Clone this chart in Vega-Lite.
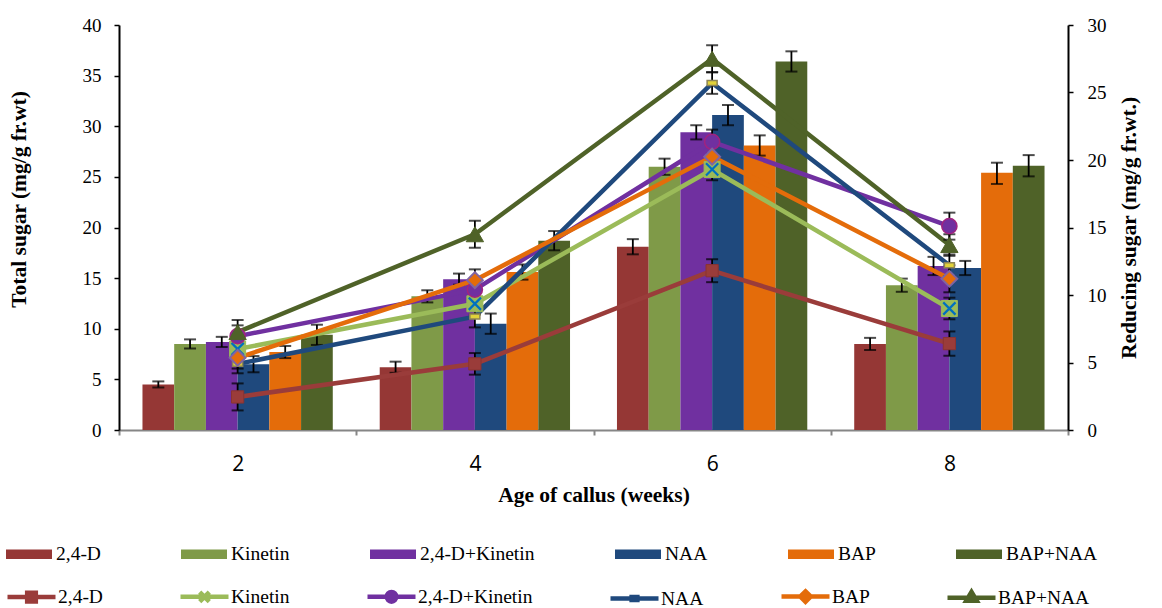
{
  "$schema": "https://vega.github.io/schema/vega-lite/v6.json",
  "width": 949,
  "height": 405,
  "autosize": {"type": "none"},
  "padding": {"left": 119, "top": 25, "right": 94, "bottom": 178},
  "background": "white",
  "config": {"view": {"stroke": null}, "font": "Liberation Serif"},
  "datasets": {
    "bars": [
      {"week": 2, "treatment": "2,4-D", "total": 4.5, "lo": 4.2, "hi": 4.8},
      {"week": 2, "treatment": "Kinetin", "total": 8.5, "lo": 8.05, "hi": 8.95},
      {"week": 2, "treatment": "2,4-D+Kinetin", "total": 8.7, "lo": 8.2, "hi": 9.2},
      {"week": 2, "treatment": "NAA", "total": 6.5, "lo": 5.7, "hi": 7.3},
      {"week": 2, "treatment": "BAP", "total": 7.7, "lo": 7.1, "hi": 8.3},
      {"week": 2, "treatment": "BAP+NAA", "total": 9.4, "lo": 8.4, "hi": 10.4},
      {"week": 4, "treatment": "2,4-D", "total": 6.2, "lo": 5.65, "hi": 6.75},
      {"week": 4, "treatment": "Kinetin", "total": 13.2, "lo": 12.6, "hi": 13.8},
      {"week": 4, "treatment": "2,4-D+Kinetin", "total": 14.9, "lo": 14.35, "hi": 15.45},
      {"week": 4, "treatment": "NAA", "total": 10.5, "lo": 9.5, "hi": 11.5},
      {"week": 4, "treatment": "BAP", "total": 15.6, "lo": 14.85, "hi": 16.35},
      {"week": 4, "treatment": "BAP+NAA", "total": 18.7, "lo": 17.75, "hi": 19.65},
      {"week": 6, "treatment": "2,4-D", "total": 18.1, "lo": 17.35, "hi": 18.85},
      {"week": 6, "treatment": "Kinetin", "total": 26.0, "lo": 25.2, "hi": 26.8},
      {"week": 6, "treatment": "2,4-D+Kinetin", "total": 29.4, "lo": 28.7, "hi": 30.1},
      {"week": 6, "treatment": "NAA", "total": 31.1, "lo": 30.1, "hi": 32.1},
      {"week": 6, "treatment": "BAP", "total": 28.1, "lo": 27.1, "hi": 29.1},
      {"week": 6, "treatment": "BAP+NAA", "total": 36.4, "lo": 35.4, "hi": 37.4},
      {"week": 8, "treatment": "2,4-D", "total": 8.5, "lo": 7.9, "hi": 9.1},
      {"week": 8, "treatment": "Kinetin", "total": 14.3, "lo": 13.65, "hi": 14.95},
      {"week": 8, "treatment": "2,4-D+Kinetin", "total": 16.2, "lo": 15.3, "hi": 17.1},
      {"week": 8, "treatment": "NAA", "total": 16.0, "lo": 15.3, "hi": 16.7},
      {"week": 8, "treatment": "BAP", "total": 25.4, "lo": 24.3, "hi": 26.4},
      {"week": 8, "treatment": "BAP+NAA", "total": 26.1, "lo": 25.05, "hi": 27.15}
    ],
    "lines": [
      {"week": 2, "series": "2,4-D", "reducing": 2.45, "lo": 1.45, "hi": 3.45},
      {"week": 2, "series": "Kinetin", "reducing": 6.0, "lo": 5.2, "hi": 6.8},
      {"week": 2, "series": "2,4-D+Kinetin", "reducing": 6.95, "lo": 6.15, "hi": 7.75},
      {"week": 2, "series": "NAA", "reducing": 4.9, "lo": 4.2, "hi": 5.6},
      {"week": 2, "series": "BAP", "reducing": 5.35, "lo": 4.55, "hi": 6.15},
      {"week": 2, "series": "BAP+NAA", "reducing": 7.25, "lo": 6.35, "hi": 8.15},
      {"week": 4, "series": "2,4-D", "reducing": 4.9, "lo": 4.1, "hi": 5.7},
      {"week": 4, "series": "Kinetin", "reducing": 9.35, "lo": 8.55, "hi": 10.15},
      {"week": 4, "series": "2,4-D+Kinetin", "reducing": 10.4, "lo": 9.6, "hi": 11.2},
      {"week": 4, "series": "NAA", "reducing": 8.4, "lo": 7.6, "hi": 9.2},
      {"week": 4, "series": "BAP", "reducing": 11.1, "lo": 10.3, "hi": 11.9},
      {"week": 4, "series": "BAP+NAA", "reducing": 14.5, "lo": 13.5, "hi": 15.5},
      {"week": 6, "series": "2,4-D", "reducing": 11.8, "lo": 10.95, "hi": 12.65},
      {"week": 6, "series": "Kinetin", "reducing": 19.3, "lo": 18.5, "hi": 20.1},
      {"week": 6, "series": "2,4-D+Kinetin", "reducing": 21.35, "lo": 20.45, "hi": 22.25},
      {"week": 6, "series": "NAA", "reducing": 25.7, "lo": 24.9, "hi": 26.5},
      {"week": 6, "series": "BAP", "reducing": 20.25, "lo": 19.45, "hi": 21.05},
      {"week": 6, "series": "BAP+NAA", "reducing": 27.5, "lo": 26.5, "hi": 28.5},
      {"week": 8, "series": "2,4-D", "reducing": 6.4, "lo": 5.5, "hi": 7.3},
      {"week": 8, "series": "Kinetin", "reducing": 9.0, "lo": 8.2, "hi": 9.8},
      {"week": 8, "series": "2,4-D+Kinetin", "reducing": 15.1, "lo": 14.1, "hi": 16.1},
      {"week": 8, "series": "NAA", "reducing": 12.2, "lo": 11.4, "hi": 13.0},
      {"week": 8, "series": "BAP", "reducing": 11.2, "lo": 10.2, "hi": 12.2},
      {"week": 8, "series": "BAP+NAA", "reducing": 13.7, "lo": 12.9, "hi": 14.5}
    ]
  },
  "encoding": {
    "x": {
      "field": "week", "type": "ordinal", "title": "Age of callus (weeks)",
      "scale": {"paddingInner": 0, "paddingOuter": 0},
      "axis": {
        "labelAngle": 0, "tickBand": "extent", "domainColor": "#868686", "domainWidth": 2,
        "tickColor": "#868686", "tickWidth": 2, "tickSize": 5,
        "labelFont": "Open Sans", "labelFontSize": 21, "labelColor": "#000", "labelPadding": 18,
        "titleFont": "Liberation Serif", "titleFontSize": 21.5, "titleFontWeight": "bold", "titleColor": "#000", "titlePadding": 10,
        "grid": false
      }
    }
  },
  "layer": [
    {
      "data": {"name": "bars"},
      "layer": [
        {
          "mark": {"type": "bar"},
          "encoding": {
            "xOffset": {"field": "treatment", "type": "nominal", "scale": {"domain": ["2,4-D", "Kinetin", "2,4-D+Kinetin", "NAA", "BAP", "BAP+NAA"], "paddingInner": 0, "paddingOuter": 0.74}},
            "y": {
              "field": "total", "type": "quantitative", "title": "Total sugar (mg/g fr.wt)",
              "scale": {"domain": [0, 40], "nice": false},
              "axis": {
                "orient": "left", "values": [0, 5, 10, 15, 20, 25, 30, 35, 40], "grid": false,
                "domainColor": "#000", "domainWidth": 2, "tickColor": "#000", "tickWidth": 1.5, "tickSize": 5,
                "labelFont": "Liberation Serif", "labelFontSize": 19, "labelColor": "#000", "labelPadding": 13,
                "titleFont": "Liberation Serif", "titleFontSize": 21.5, "titleFontWeight": "bold", "titleColor": "#000", "titlePadding": 52, "titleY": 174
              }
            },
            "fill": {
              "field": "treatment", "type": "nominal",
              "scale": {"domain": ["2,4-D", "Kinetin", "2,4-D+Kinetin", "NAA", "BAP", "BAP+NAA"], "range": ["#953735", "#7f9a48", "#7030a0", "#1f497d", "#e46c0a", "#4f6228"]},
              "legend": {
                "orient": "none", "legendX": -113, "legendY": 506, "direction": "horizontal", "columns": 6, "columnPadding": 80,
                "title": null, "symbolType": "M-1,-0.21H1V0.21H-1Z", "symbolSize": 2116, "symbolStrokeWidth": 0,
                "labelFont": "Liberation Serif", "labelFontSize": 19.5, "labelColor": "#000", "labelOffset": 4, "padding": 0, "labelLimit": 300
              }
            }
          }
        },
        {
          "mark": {"type": "rule", "color": "#000", "strokeWidth": 1.8},
          "encoding": {
            "xOffset": {"field": "treatment", "type": "nominal"},
            "y": {"field": "lo", "type": "quantitative", "title": "Total sugar (mg/g fr.wt)"},
            "y2": {"field": "hi"}
          }
        },
        {
          "mark": {"type": "tick", "color": "#000", "thickness": 2, "size": 12, "orient": "horizontal"},
          "encoding": {
            "xOffset": {"field": "treatment", "type": "nominal"},
            "y": {"field": "lo", "type": "quantitative", "title": "Total sugar (mg/g fr.wt)"}
          }
        },
        {
          "mark": {"type": "tick", "color": "#000", "thickness": 2, "size": 12, "orient": "horizontal"},
          "encoding": {
            "xOffset": {"field": "treatment", "type": "nominal"},
            "y": {"field": "hi", "type": "quantitative", "title": "Total sugar (mg/g fr.wt)"}
          }
        }
      ]
    },
    {
      "data": {"name": "lines"},
      "layer": [
        {
          "mark": {"type": "line", "strokeWidth": 4.5, "strokeJoin": "round", "strokeCap": "round"},
          "encoding": {
            "y": {
              "field": "reducing", "type": "quantitative", "title": "Reducing sugar (mg/g fr.wt.)",
              "scale": {"domain": [0, 30], "nice": false},
              "axis": {
                "orient": "right", "values": [0, 5, 10, 15, 20, 25, 30], "grid": false,
                "domainColor": "#000", "domainWidth": 2, "tickColor": "#000", "tickWidth": 1.5, "tickSize": 5,
                "labelFont": "Liberation Serif", "labelFontSize": 19, "labelColor": "#000", "labelPadding": 14,
                "titleFont": "Liberation Serif", "titleFontSize": 21.5, "titleFontWeight": "bold", "titleColor": "#000",
                "titleAngle": 270, "titleBaseline": "top", "titlePadding": 12
              }
            },
            "stroke": {
              "field": "series", "type": "nominal",
              "scale": {"domain": ["2,4-D", "Kinetin", "2,4-D+Kinetin", "NAA", "BAP", "BAP+NAA"], "range": ["#9a3c3a", "#9bbb59", "#7030a0", "#1f497d", "#e46c0a", "#4f6228"]}
            }
          }
        },
        {
          "mark": {"type": "rule", "color": "#000", "strokeWidth": 1.8},
          "encoding": {
            "y": {"field": "lo", "type": "quantitative", "title": "Reducing sugar (mg/g fr.wt.)"},
            "y2": {"field": "hi"}
          }
        },
        {
          "mark": {"type": "tick", "color": "#000", "thickness": 2, "size": 12, "orient": "horizontal"},
          "encoding": {"y": {"field": "lo", "type": "quantitative", "title": "Reducing sugar (mg/g fr.wt.)"}}
        },
        {
          "mark": {"type": "tick", "color": "#000", "thickness": 2, "size": 12, "orient": "horizontal"},
          "encoding": {"y": {"field": "hi", "type": "quantitative", "title": "Reducing sugar (mg/g fr.wt.)"}}
        },
        {
          "transform": [{"filter": "datum.series === '2,4-D'"}],
          "mark": {"type": "point", "shape": "square", "size": 150, "filled": true, "fill": "#9a3c3a", "stroke": "#8a3331", "strokeWidth": 1, "opacity": 1},
          "encoding": {"y": {"field": "reducing", "type": "quantitative", "title": "Reducing sugar (mg/g fr.wt.)"}}
        },
        {
          "transform": [{"filter": "datum.series === 'Kinetin'"}],
          "mark": {"type": "point", "shape": "square", "size": 256, "filled": true, "fill": "#9bbb59", "stroke": "#9bbb59", "strokeWidth": 1, "opacity": 1},
          "encoding": {"y": {"field": "reducing", "type": "quantitative", "title": "Reducing sugar (mg/g fr.wt.)"}}
        },
        {
          "transform": [{"filter": "datum.series === 'Kinetin'"}],
          "mark": {"type": "point", "shape": "M-1,-1L1,1M1,-1L-1,1", "size": 150, "filled": false, "stroke": "#0070c0", "strokeWidth": 2.2, "opacity": 1},
          "encoding": {"y": {"field": "reducing", "type": "quantitative", "title": "Reducing sugar (mg/g fr.wt.)"}}
        },
        {
          "transform": [{"filter": "datum.series === '2,4-D+Kinetin'"}],
          "mark": {"type": "point", "shape": "circle", "size": 230, "filled": true, "fill": "#7030a0", "stroke": "#a1237f", "strokeWidth": 1.5, "opacity": 1},
          "encoding": {"y": {"field": "reducing", "type": "quantitative", "title": "Reducing sugar (mg/g fr.wt.)"}}
        },
        {
          "transform": [{"filter": "datum.series === 'NAA'"}],
          "mark": {"type": "point", "shape": "M-1,-0.5H1V0.5H-1Z", "size": 100, "filled": true, "fill": "#e0d23a", "stroke": "#8c8455", "strokeWidth": 1.5, "opacity": 1},
          "encoding": {"y": {"field": "reducing", "type": "quantitative", "title": "Reducing sugar (mg/g fr.wt.)"}}
        },
        {
          "transform": [{"filter": "datum.series === 'BAP'"}],
          "mark": {"type": "point", "shape": "diamond", "size": 250, "filled": true, "fill": "#e46c0a", "stroke": "#8064a2", "strokeWidth": 2, "opacity": 1},
          "encoding": {"y": {"field": "reducing", "type": "quantitative", "title": "Reducing sugar (mg/g fr.wt.)"}}
        },
        {
          "transform": [{"filter": "datum.series === 'BAP+NAA'"}],
          "mark": {"type": "point", "shape": "triangle-up", "size": 300, "filled": true, "fill": "#4f6228", "stroke": "#4f6228", "strokeWidth": 1, "opacity": 1},
          "encoding": {"y": {"field": "reducing", "type": "quantitative", "title": "Reducing sugar (mg/g fr.wt.)"}}
        },
        {
          "mark": {"type": "point", "filled": true, "opacity": 0},
          "encoding": {
            "y": {"field": "reducing", "type": "quantitative", "title": "Reducing sugar (mg/g fr.wt.)"},
            "fill": {
              "field": "series", "type": "nominal",
              "scale": {"domain": ["2,4-D", "Kinetin", "2,4-D+Kinetin", "NAA", "BAP", "BAP+NAA"], "range": ["#9a3c3a", "#9bbb59", "#7030a0", "#d8c836", "#e46c0a", "#4f6228"]},
              "legend": {
                "orient": "none", "legendX": -114, "legendY": 545, "direction": "horizontal", "columns": 6, "columnPadding": 68,
                "title": null, "symbolSize": 2304, "symbolStrokeWidth": 4.5, "symbolOpacity": 1,
                "labelFont": "Liberation Serif", "labelFontSize": 19.5, "labelColor": "#000", "labelOffset": 0, "padding": 0, "labelLimit": 300
              }
            },
            "stroke": {
              "field": "series", "type": "nominal",
              "scale": {"domain": ["2,4-D", "Kinetin", "2,4-D+Kinetin", "NAA", "BAP", "BAP+NAA"], "range": ["#9a3c3a", "#9bbb59", "#7030a0", "#1f497d", "#e46c0a", "#4f6228"]},
              "legend": {
                "orient": "none", "legendX": -114, "legendY": 545, "direction": "horizontal", "columns": 6, "columnPadding": 68,
                "title": null, "symbolSize": 2304, "symbolStrokeWidth": 4.5, "symbolOpacity": 1,
                "labelFont": "Liberation Serif", "labelFontSize": 19.5, "labelColor": "#000", "labelOffset": 0, "padding": 0, "labelLimit": 300
              }
            },
            "shape": {
              "field": "series", "type": "nominal",
              "scale": {"domain": ["2,4-D", "Kinetin", "2,4-D+Kinetin", "NAA", "BAP", "BAP+NAA"], "range": [
                "M-1,0H1M-0.18,-0.18H0.18V0.18H-0.18Z",
                "M-1,0H1M-0.2,-0.2L0.2,0.2M0.2,-0.2L-0.2,0.2",
                "M-1,0H1M-0.2,0A0.2,0.2,0,1,0,0.2,0A0.2,0.2,0,1,0,-0.2,0Z",
                "M-1,0H1M-0.12,-0.06H0.12V0.06H-0.12Z",
                "M-1,0H1M0,-0.22L0.22,0L0,0.22L-0.22,0Z",
                "M-1,0H1M0,-0.25L0.22,0.12H-0.22Z"
              ]},
              "legend": {
                "orient": "none", "legendX": -114, "legendY": 545, "direction": "horizontal", "columns": 6, "columnPadding": 68,
                "title": null, "symbolSize": 2304, "symbolStrokeWidth": 4.5, "symbolOpacity": 1,
                "labelFont": "Liberation Serif", "labelFontSize": 19.5, "labelColor": "#000", "labelOffset": 0, "padding": 0, "labelLimit": 300
              }
            }
          }
        }
      ]
    }
  ],
  "resolve": {"scale": {"y": "independent", "fill": "independent", "stroke": "independent", "shape": "independent"}}
}
